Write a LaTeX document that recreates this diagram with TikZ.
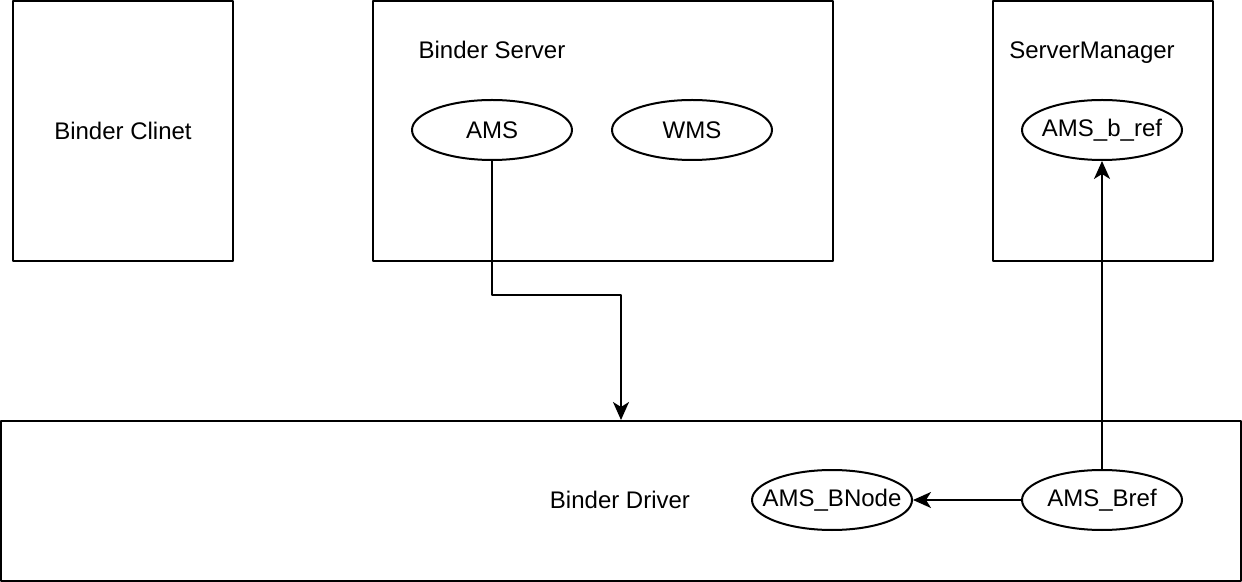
\documentclass[tikz,border=0pt]{standalone}
\usepackage{fontspec}
\setmainfont{Liberation Sans}
\usetikzlibrary{arrows.meta,shapes.geometric}
\newcommand{\ovaltext}[1]{\makebox[0pt]{#1}}

\begin{document}
\begin{tikzpicture}[x=0.5pt,y=-0.5pt,line width=1pt,line join=round,>={Stealth[length=9pt,width=8pt,inset=2.5pt]},font=\fontsize{12}{14}\selectfont]
\tikzset{
  box/.style={draw,rectangle,inner sep=0pt,minimum width=110pt,minimum height=130pt},
  proc/.style={draw,ellipse,inner sep=0pt,minimum width=80pt,minimum height=30pt},
  lbl/.style={inner sep=0pt,text depth=0pt}
}
\useasboundingbox (0,0) rectangle (1242,582);
% boxes
\node[box] (client) at (123,131) {Binder Clinet};
\node[box,minimum width=230pt] (server) at (603,131) {};
\node[box] (manager) at (1103,131) {};
\node[box,minimum width=620pt,minimum height=80pt] (driver) at (621,501) {};
\node[lbl] (serverlbl) at (492,50) {Binder Server};
\node[lbl] (managerlbl) at (1092,50) {ServerManager};
\node[lbl] (driverlbl) at (620,500) {Binder Driver};
% services
\node[proc] (ams) at (492,130) {\ovaltext{AMS}};
\node[proc] (wms) at (692,130) {\ovaltext{WMS}};
\node[proc] (amsref) at (1102,130) {\ovaltext{AMS\_b\_ref}};
\node[proc] (bnode) at (832,500) {\ovaltext{AMS\_BNode}};
\node[proc] (bref) at (1102,500) {\ovaltext{AMS\_Bref}};
% links
\coordinate (bend) at (621,295);
\draw[->] (ams.south) |- (bend) -- (bend |- driver.north);
\draw[->] (bref.west) -- (bnode.east);
\draw[->] (bref.north) -- (amsref.south);
\end{tikzpicture}
\end{document}
